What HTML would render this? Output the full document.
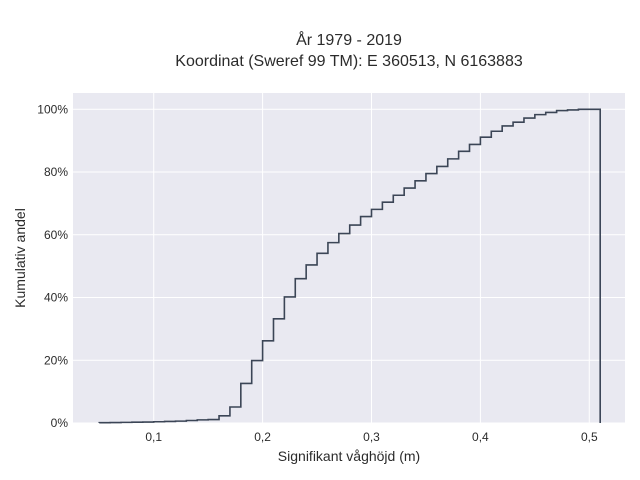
<!DOCTYPE html>
<html><head><meta charset="utf-8"><style>
body{margin:0;background:#fff;}
svg{display:block;font-family:"Liberation Sans",sans-serif;}
</style></head><body>
<svg id="chart" width="640" height="480">
<rect x="0" y="0" width="640" height="480" fill="#fff"/>
<rect x="73" y="93" width="552" height="330" fill="#e9e9f1"/>
<g id="grid"></g>
<path id="line" fill="none" stroke="#3b4556" stroke-width="1.6"/>
<g id="ticks"></g>
<text x="349" y="45" text-anchor="middle" font-size="16" fill="#2b2b2b">År 1979 - 2019</text>
<text x="349" y="66" text-anchor="middle" font-size="16" fill="#2b2b2b">Koordinat (Sweref 99 TM): E 360513, N 6163883</text>
<text x="349" y="461" text-anchor="middle" font-size="14" fill="#2b2b2b">Signifikant våghöjd (m)</text>
<text transform="translate(25,258) rotate(-90)" text-anchor="middle" font-size="14" fill="#2b2b2b">Kumulativ andel</text>
</svg>
<script>
const binStart = 0.05;
const binWidth = 0.01;
const cumPercent = [0.1,0.15,0.2,0.25,0.3,0.4,0.5,0.6,0.8,1.0,1.1,2.3,5.1,12.6,19.9,26.2,33.2,40.2,46,50.4,54.1,57.5,60.4,63.1,65.8,68.1,70.4,72.6,74.9,77.2,79.5,81.8,84.2,86.6,88.8,91.1,93,94.7,95.9,97.2,98.3,99,99.6,99.8,100,100];
const xTicks = [0.1,0.2,0.3,0.4,0.5];
const xTickLabels = ["0,1","0,2","0,3","0,4","0,5"];
const yTicks = [0,20,40,60,80,100];
const yTickLabels = ["0%","20%","40%","60%","80%","100%"];

const X = v => 153.7 + (v - 0.1) * 1089;
const Y = p => 423 - p * 3.137;
const NS = "http://www.w3.org/2000/svg";
const grid = document.getElementById('grid');
const ticks = document.getElementById('ticks');
xTicks.forEach((v,i)=>{
  const l = document.createElementNS(NS,'line');
  l.setAttribute('x1',X(v));l.setAttribute('x2',X(v));l.setAttribute('y1',93);l.setAttribute('y2',423);
  l.setAttribute('stroke','#fff');l.setAttribute('stroke-width','1');
  
  
  grid.appendChild(l);
  const t = document.createElementNS(NS,'text');
  t.setAttribute('x',X(v));t.setAttribute('y',441);t.setAttribute('text-anchor','middle');
  t.setAttribute('font-size','12');t.setAttribute('fill','#2b2b2b');
  t.textContent = xTickLabels[i];
  
  
  ticks.appendChild(t);
});
yTicks.forEach((p,i)=>{
  const l = document.createElementNS(NS,'line');
  l.setAttribute('x1',73);l.setAttribute('x2',625);l.setAttribute('y1',Y(p));l.setAttribute('y2',Y(p));
  l.setAttribute('stroke','#fff');l.setAttribute('stroke-width','1');
  
  
  grid.appendChild(l);
  const t = document.createElementNS(NS,'text');
  t.setAttribute('x',68);t.setAttribute('y',Y(p)+4);t.setAttribute('text-anchor','end');
  t.setAttribute('font-size','12');t.setAttribute('fill','#2b2b2b');
  t.textContent = yTickLabels[i];
  
  
  ticks.appendChild(t);
});
let d = 'M' + X(binStart) + ',' + Y(0);
cumPercent.forEach((p,i)=>{
  const x0 = X(binStart + i*binWidth), x1 = X(binStart + (i+1)*binWidth);
  d += ' L' + x0 + ',' + Y(p) + ' L' + x1 + ',' + Y(p);
});
d += ' L' + X(binStart + cumPercent.length*binWidth) + ',' + Y(0);
document.getElementById('line').setAttribute('d', d);
</script>
</body></html>
